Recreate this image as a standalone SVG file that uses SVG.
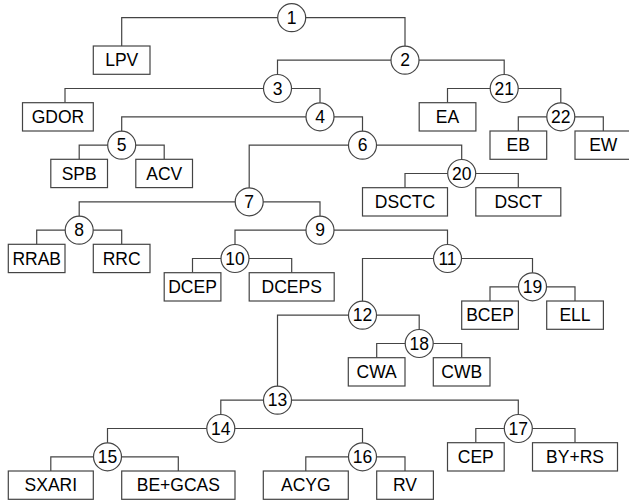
<svg xmlns="http://www.w3.org/2000/svg" width="629" height="504" viewBox="0 0 629 504">
<style>
.c{fill:none;stroke:#444;stroke-width:1.2}
.n circle{fill:#fff;stroke:#444;stroke-width:1.2}
.n rect{fill:#fff;stroke:#444;stroke-width:1.2}
text{font-family:"Liberation Sans",Arial,sans-serif;font-size:17.5px;fill:#000;text-anchor:middle}
</style>
<rect width="629" height="504" fill="#fff"/>
<g id="connectors" class="c">
<path d="M121.7,46 V17.7 H405 V60.2"/>
<path d="M277.5,88.5 V60.2 H504.2 V88.5"/>
<path d="M65,102.7 V88.5 H320 V116.8"/>
<path d="M121.7,145.2 V116.8 H362.5 V145.2"/>
<path d="M79.2,159.3 V145.2 H164.2 V159.3"/>
<path d="M249.2,201.8 V145.2 H461.7 V173.5"/>
<path d="M79.2,230.2 V201.8 H320 V230.2"/>
<path d="M36.7,244.3 V230.2 H121.7 V244.3"/>
<path d="M235,258.5 V230.2 H447.5 V258.5"/>
<path d="M192.5,272.7 V258.5 H291.7 V272.7"/>
<path d="M362.5,315.2 V258.5 H532.5 V286.8"/>
<path d="M277.5,400.2 V315.2 H419.2 V343.5"/>
<path d="M220.8,428.5 V400.2 H518.3 V428.5"/>
<path d="M107.5,456.8 V428.5 H362.5 V456.8"/>
<path d="M50.8,471 V456.8 H178.3 V471"/>
<path d="M305.8,471 V456.8 H405 V471"/>
<path d="M475.8,442.7 V428.5 H575 V442.7"/>
<path d="M376.7,357.7 V343.5 H461.7 V357.7"/>
<path d="M490,301 V286.8 H575 V301"/>
<path d="M405,187.7 V173.5 H518.3 V187.7"/>
<path d="M447.5,102.7 V88.5 H560.8 V116.8"/>
<path d="M518.3,131 V116.8 H603.3 V131"/>
</g>
<g id="n1" class="n"><circle cx="291.7" cy="17.7" r="14"/><text x="291.7" y="23.9">1</text></g>
<g id="n2" class="n"><circle cx="405" cy="60.2" r="14"/><text x="405" y="66.4">2</text></g>
<g id="n3" class="n"><circle cx="277.5" cy="88.5" r="14"/><text x="277.5" y="94.7">3</text></g>
<g id="n4" class="n"><circle cx="320" cy="116.8" r="14"/><text x="320" y="123">4</text></g>
<g id="n5" class="n"><circle cx="121.7" cy="145.2" r="14"/><text x="121.7" y="151.4">5</text></g>
<g id="n6" class="n"><circle cx="362.5" cy="145.2" r="14"/><text x="362.5" y="151.4">6</text></g>
<g id="n7" class="n"><circle cx="249.2" cy="201.8" r="14"/><text x="249.2" y="208">7</text></g>
<g id="n8" class="n"><circle cx="79.2" cy="230.2" r="14"/><text x="79.2" y="236.4">8</text></g>
<g id="n9" class="n"><circle cx="320" cy="230.2" r="14"/><text x="320" y="236.4">9</text></g>
<g id="n10" class="n"><circle cx="235" cy="258.5" r="14"/><text x="235" y="264.7">10</text></g>
<g id="n11" class="n"><circle cx="447.5" cy="258.5" r="14"/><text x="447.5" y="264.7">11</text></g>
<g id="n12" class="n"><circle cx="362.5" cy="315.2" r="14"/><text x="362.5" y="321.4">12</text></g>
<g id="n13" class="n"><circle cx="277.5" cy="400.2" r="14"/><text x="277.5" y="406.4">13</text></g>
<g id="n14" class="n"><circle cx="220.8" cy="428.5" r="14"/><text x="220.8" y="434.7">14</text></g>
<g id="n15" class="n"><circle cx="107.5" cy="456.8" r="14"/><text x="107.5" y="463">15</text></g>
<g id="n16" class="n"><circle cx="362.5" cy="456.8" r="14"/><text x="362.5" y="463">16</text></g>
<g id="n17" class="n"><circle cx="518.3" cy="428.5" r="14"/><text x="518.3" y="434.7">17</text></g>
<g id="n18" class="n"><circle cx="419.2" cy="343.5" r="14"/><text x="419.2" y="349.7">18</text></g>
<g id="n19" class="n"><circle cx="532.5" cy="286.8" r="14"/><text x="532.5" y="293">19</text></g>
<g id="n20" class="n"><circle cx="461.7" cy="173.5" r="14"/><text x="461.7" y="179.7">20</text></g>
<g id="n21" class="n"><circle cx="504.2" cy="88.5" r="14"/><text x="504.2" y="94.7">21</text></g>
<g id="n22" class="n"><circle cx="560.8" cy="116.8" r="14"/><text x="560.8" y="123">22</text></g>
<g id="LPV" class="n"><rect x="93.3" y="46" width="56.7" height="28.3"/><text x="121.7" y="66.4">LPV</text></g>
<g id="GDOR" class="n"><rect x="22.5" y="102.7" width="70.8" height="28.3"/><text x="57.9" y="123">GDOR</text></g>
<g id="SPB" class="n"><rect x="50.8" y="159.3" width="56.7" height="28.3"/><text x="79.2" y="179.7">SPB</text></g>
<g id="ACV" class="n"><rect x="135.8" y="159.3" width="56.7" height="28.3"/><text x="164.2" y="179.7">ACV</text></g>
<g id="RRAB" class="n"><rect x="8.3" y="244.3" width="56.7" height="28.3"/><text x="36.7" y="264.7">RRAB</text></g>
<g id="RRC" class="n"><rect x="93.3" y="244.3" width="56.7" height="28.3"/><text x="121.7" y="264.7">RRC</text></g>
<g id="DCEP" class="n"><rect x="164.2" y="272.7" width="56.7" height="28.3"/><text x="192.5" y="293">DCEP</text></g>
<g id="DCEPS" class="n"><rect x="249.2" y="272.7" width="85" height="28.3"/><text x="291.7" y="293">DCEPS</text></g>
<g id="DSCTC" class="n"><rect x="362.5" y="187.7" width="85" height="28.3"/><text x="405" y="208">DSCTC</text></g>
<g id="DSCT" class="n"><rect x="475.8" y="187.7" width="85" height="28.3"/><text x="518.3" y="208">DSCT</text></g>
<g id="EA" class="n"><rect x="419.2" y="102.7" width="56.7" height="28.3"/><text x="447.5" y="123">EA</text></g>
<g id="EB" class="n"><rect x="490" y="131" width="56.7" height="28.3"/><text x="518.3" y="151.4">EB</text></g>
<g id="EW" class="n"><rect x="575" y="131" width="56.7" height="28.3"/><text x="603.3" y="151.4">EW</text></g>
<g id="BCEP" class="n"><rect x="461.7" y="301" width="56.7" height="28.3"/><text x="490" y="321.4">BCEP</text></g>
<g id="ELL" class="n"><rect x="546.7" y="301" width="56.7" height="28.3"/><text x="575" y="321.4">ELL</text></g>
<g id="CWA" class="n"><rect x="348.3" y="357.7" width="56.7" height="28.3"/><text x="376.7" y="378">CWA</text></g>
<g id="CWB" class="n"><rect x="433.3" y="357.7" width="56.7" height="28.3"/><text x="461.7" y="378">CWB</text></g>
<g id="CEP" class="n"><rect x="447.5" y="442.7" width="56.7" height="28.3"/><text x="475.8" y="463">CEP</text></g>
<g id="BYRS" class="n"><rect x="532.5" y="442.7" width="85" height="28.3"/><text x="575" y="463">BY+RS</text></g>
<g id="SXARI" class="n"><rect x="8.3" y="471" width="85" height="28.3"/><text x="50.8" y="491.4">SXARI</text></g>
<g id="BEGCAS" class="n"><rect x="121.7" y="471" width="113.3" height="28.3"/><text x="178.3" y="491.4">BE+GCAS</text></g>
<g id="ACYG" class="n"><rect x="263.3" y="471" width="85" height="28.3"/><text x="305.8" y="491.4">ACYG</text></g>
<g id="RV" class="n"><rect x="376.7" y="471" width="56.7" height="28.3"/><text x="405" y="491.4">RV</text></g>
</svg>
